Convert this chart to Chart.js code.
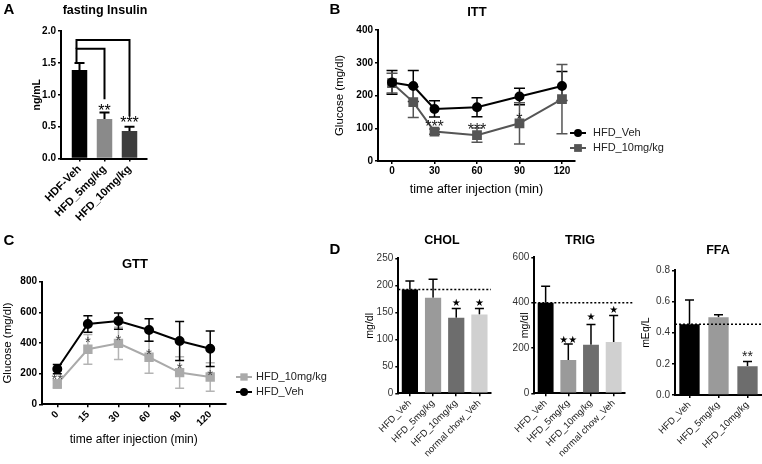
<!DOCTYPE html>
<html>
<head>
<meta charset="utf-8">
<script src="https://cdn.jsdelivr.net/npm/chart.js@4.4.0/dist/chart.umd.min.js"></script>
<style>
  html, body { margin: 0; padding: 0; background: #fff; }
  body { width: 762px; height: 464px; position: relative; overflow: hidden; font-family: 'Liberation Sans', Arial, sans-serif; }
  canvas { position: absolute; }
  .lbl { position: absolute; transform: translate(-50%, -50%); font-weight: bold; line-height: 1; white-space: nowrap; color: #000; }
</style>
</head>
<body>
<canvas id="chartA"></canvas>
<canvas id="chartB"></canvas>
<canvas id="chartC"></canvas>
<canvas id="chartChol"></canvas>
<canvas id="chartTrig"></canvas>
<canvas id="chartFfa"></canvas>

<div class="lbl" style="left:9px;top:8px;font-size:15px">A</div>
<div class="lbl" style="left:335px;top:8px;font-size:15px">B</div>
<div class="lbl" style="left:9px;top:239px;font-size:15px">C</div>
<div class="lbl" style="left:335px;top:248px;font-size:15px">D</div>
<div class="lbl" style="left:105px;top:10px;font-size:12.5px">fasting Insulin</div>
<div class="lbl" style="left:477px;top:11px;font-size:13px">ITT</div>
<div class="lbl" style="left:135px;top:263px;font-size:13px">GTT</div>
<div class="lbl" style="left:442px;top:240px;font-size:12.5px">CHOL</div>
<div class="lbl" style="left:580px;top:240px;font-size:12.5px">TRIG</div>
<div class="lbl" style="left:718px;top:250px;font-size:12.5px">FFA</div>

<script>
// ---- data ----
const insulinGroups = ['HDF-Veh', 'HFD_5mg/kg', 'HFD_10mg/kg'];
const insulinMean = [1.39, 0.62, 0.43];
const insulinSem = [0.11, 0.10, 0.07];
const insulinStars = ['', '**', '***'];
const insulinStarAt = [null, 0.81, 0.62];
const insulinBrackets = [
    { from: -0.12, to: 1, start: 1.5, top: 1.72, end: 0.93 },
    { from: -0.12, to: 2, start: 1.72, top: 1.86, end: 0.66 },
];

const ittTimes = [0, 15, 30, 60, 90, 120];
const ittTicks = [0, 30, 60, 90, 120];
const ittVeh = [240, 229, 159, 164, 197, 229];
const ittVehSem = [36, 47, 25, 29, 25, 44];
const itt10 = [238, 180, 90, 79, 115, 189];
const itt10Sem = [30, 47, 8, 22, 63, 106];
const ittStars = ['', '', '***', '***', '*', ''];
const ittStarAt = [null, null, 117, 108, 137, null];

const gttTimes = ['0', '15', '30', '60', '90', '120'];
const gttVeh = [230, 524, 543, 485, 413, 363];
const gttVehSem = [30, 54, 53, 74, 127, 116];
const gtt10 = [133, 359, 398, 307, 207, 178];
const gtt10Sem = [28, 97, 105, 104, 103, 93];
const gttStars = ['**', '*', '*', '*', '*', '*'];
const gttStarAt = [187, 432, 441, 352, 262, 215];

const lipidGroups = ['HFD_Veh', 'HFD_5mg/kg', 'HFD_10mg/kg', 'normal chow_Veh'];
const cholMean = [192, 177, 140, 146];
const cholSem = [16, 34, 17, 11];
const cholStars = ['', '', '★', '★'];
const cholStarAt = [null, null, 168, 168];
const trigMean = [400, 147, 214, 226];
const trigSem = [73, 71, 90, 118];
const trigStars = ['', '★★', '★', '★'];
const trigStarAt = [null, 238, 341, 370];
const ffaGroups = ['HFD_Veh', 'HFD_5mg/kg', 'HFD_10mg/kg'];
const ffaMean = [0.455, 0.5, 0.185];
const ffaSem = [0.155, 0.015, 0.03];
const ffaStars = ['', '', '**'];
const ffaStarAt = [null, null, 0.27];

// ---- styling ----
const FONT = "'Liberation Sans', Arial, sans-serif";
Chart.defaults.font.family = FONT;
Chart.defaults.color = '#000';
const barGrays = ['#000000', '#9a9a9a', '#6d6d6d', '#d0d0d0'];

// error bars drawn from each dataset's errPlus / errMinus through the y scale
const errorBars = {
    id: 'errorBars',
    beforeDatasetsDraw(chart, args, opts) {
        const { ctx } = chart;
        const y = chart.scales.y;
        chart.data.datasets.forEach((ds, di) => {
            if (!ds.errPlus) return;
            const meta = chart.getDatasetMeta(di);
            ctx.save();
            ctx.strokeStyle = ds.errColor || '#000';
            ctx.lineWidth = opts.width || 1.5;
            meta.data.forEach((el, i) => {
                const v = meta.controller.getParsed(i).y;
                const top = y.getPixelForValue(v + ds.errPlus[i]);
                const bot = ds.errMinus ? y.getPixelForValue(v - ds.errMinus[i]) : y.getPixelForValue(v);
                const half = (opts.cap || 8) / 2;
                ctx.beginPath();
                ctx.moveTo(el.x, bot);
                ctx.lineTo(el.x, top);
                ctx.moveTo(el.x - half, top);
                ctx.lineTo(el.x + half, top);
                if (ds.errMinus) {
                    ctx.moveTo(el.x - half, bot);
                    ctx.lineTo(el.x + half, bot);
                }
                ctx.stroke();
            });
            ctx.restore();
        });
    },
};

const starLabels = {
    id: 'starLabels',
    afterDatasetsDraw(chart, args, opts) {
        if (!opts.labels) return;
        const { ctx } = chart;
        const y = chart.scales.y;
        const meta = chart.getDatasetMeta(0);
        ctx.save();
        ctx.font = `${opts.size}px ${opts.family || FONT}`;
        ctx.fillStyle = opts.color || '#000';
        ctx.textAlign = 'center';
        ctx.textBaseline = 'alphabetic';
        opts.labels.forEach((s, i) => {
            if (!s) return;
            ctx.fillText(s, meta.data[i].x, y.getPixelForValue(opts.at[i]) + opts.size * opts.center);
        });
        ctx.restore();
    },
};

const brackets = {
    id: 'brackets',
    afterDatasetsDraw(chart, args, opts) {
        if (!opts.items) return;
        const { ctx } = chart;
        const x = chart.scales.x;
        const y = chart.scales.y;
        ctx.save();
        ctx.strokeStyle = '#000';
        ctx.lineWidth = 2;
        opts.items.forEach((b) => {
            const x0 = x.getPixelForValue(b.from);
            const x1 = x.getPixelForValue(b.to);
            ctx.beginPath();
            ctx.moveTo(x0, y.getPixelForValue(b.start));
            ctx.lineTo(x0, y.getPixelForValue(b.top));
            ctx.lineTo(x1, y.getPixelForValue(b.top));
            ctx.lineTo(x1, y.getPixelForValue(b.end));
            ctx.stroke();
        });
        ctx.restore();
    },
};

// dotted reference line at the vehicle mean
const refLine = {
    id: 'refLine',
    afterDatasetsDraw(chart, args, opts) {
        if (opts.value === undefined) return;
        const { ctx, chartArea } = chart;
        const yy = chart.scales.y.getPixelForValue(opts.value);
        ctx.save();
        ctx.strokeStyle = '#000';
        ctx.lineWidth = 1.5;
        ctx.setLineDash([2, 2]);
        ctx.beginPath();
        ctx.moveTo(chartArea.left, yy);
        ctx.lineTo(chartArea.right + (opts.extend || 0), yy);
        ctx.stroke();
        ctx.restore();
    },
};

const lineLegend = {
    id: 'lineLegend',
    afterDraw(chart, args, opts) {
        if (!opts.display) return;
        const { ctx, chartArea } = chart;
        ctx.save();
        ctx.font = `11px ${FONT}`;
        ctx.textBaseline = 'middle';
        ctx.textAlign = 'left';
        chart.data.datasets.forEach((ds, k) => {
            const x = chartArea.right + opts.dx;
            const y = chartArea.bottom + opts.dy + k * opts.gap;
            ctx.strokeStyle = ds.borderColor;
            ctx.fillStyle = ds.borderColor;
            ctx.lineWidth = 2;
            ctx.beginPath();
            ctx.moveTo(x, y);
            ctx.lineTo(x + 16, y);
            ctx.stroke();
            if (ds.pointStyle === 'rect') {
                const s = ds.pointRadius * Math.SQRT1_2;
                ctx.fillRect(x + 8 - s, y - s, 2 * s, 2 * s);
            } else {
                ctx.beginPath();
                ctx.arc(x + 8, y, ds.pointRadius, 0, Math.PI * 2);
                ctx.fill();
            }
            ctx.fillStyle = '#222';
            ctx.fillText(ds.label, x + opts.textGap, y);
        });
        ctx.restore();
    },
};

const tickLine = { display: true, drawOnChartArea: false, drawTicks: true, tickLength: 3, color: '#000', lineWidth: 1.5, offset: false };
const axisBorder = { display: true, color: '#000', width: 2 };

function yScale(o) {
    return {
        type: 'linear',
        min: o.min,
        max: o.max,
        ticks: { stepSize: o.step, font: o.font, color: o.color || '#000', padding: 2, callback: o.fmt || ((v) => v) },
        grid: tickLine,
        border: axisBorder,
        title: { display: !!o.title, text: o.title, font: o.titleFont, color: '#000' },
    };
}

function xScale(o) {
    const s = {
        type: o.type || 'category',
        offset: o.type !== 'linear',
        ticks: { font: o.font, color: o.color || '#000', padding: 2, autoSkip: false, minRotation: o.rot || 0, maxRotation: o.rot || 0 },
        grid: tickLine,
        border: axisBorder,
        title: { display: !!o.title, text: o.title, font: o.titleFont, color: '#000' },
    };
    if (o.type === 'linear') {
        s.min = o.min;
        s.max = o.max;
        s.afterBuildTicks = (sc) => { sc.ticks = o.ticks.map((v) => ({ value: v })); };
        if (o.fmt) s.ticks.callback = o.fmt;
    }
    return s;
}

function makeChart(id, box, area, titles, cfg) {
    const cv = document.getElementById(id);
    cv.width = box.r - box.l;
    cv.height = box.b - box.t;
    cv.style.left = box.l + 'px';
    cv.style.top = box.t + 'px';
    const o = cfg.options;
    o.responsive = false;
    o.maintainAspectRatio = false;
    o.animation = false;
    o.devicePixelRatio = 1;
    o.layout = { padding: { top: area.t - box.t, right: box.r - area.r, left: 0, bottom: 0 } };
    o.plugins = Object.assign({ legend: { display: false }, tooltip: { enabled: false } }, o.plugins);
    o.scales.x.afterFit = (s) => { s.height = box.b - area.b; };
    o.scales.y.afterFit = (s) => { s.width = area.l - box.l; };
    const yt = o.scales.y.title;
    if (yt.display) yt.padding = { top: titles.yx - box.l - yt.font.size / 2, bottom: 0 };
    const xt = o.scales.x.title;
    if (xt.display) xt.padding = { top: 0, bottom: box.b - titles.xy - xt.font.size / 2 };
    return new Chart(cv, cfg);
}

const bold = (size) => ({ size, weight: 'bold', lineHeight: 1 });
const plain = (size) => ({ size, lineHeight: 1 });

// ---- A: fasting insulin ----
makeChart('chartA', { l: 0, t: 0, r: 165, b: 232 }, { l: 61, t: 31, r: 147, b: 158.5 }, { yx: 37 }, {
    type: 'bar',
    data: {
        datasets: [{
            data: insulinMean.map((v, i) => ({ x: i, y: v })),
            errPlus: insulinSem,
            backgroundColor: ['#000000', '#8a8a8a', '#3d3d3d'],
            barPercentage: 0.62,
            categoryPercentage: 1,
        }],
    },
    options: {
        scales: {
            x: xScale({ type: 'linear', min: -0.74, max: 2.7, ticks: [0, 1, 2], fmt: (v) => insulinGroups[v], font: bold(11), rot: 45 }),
            y: yScale({ min: 0, max: 2, step: 0.5, font: bold(10), fmt: (v) => v.toFixed(1), title: 'ng/mL', titleFont: bold(10.5) }),
        },
        plugins: {
            errorBars: { cap: 10, width: 2 },
            starLabels: { labels: insulinStars, at: insulinStarAt, size: 16, center: 0.57 },
            brackets: { items: insulinBrackets },
        },
    },
    plugins: [errorBars, starLabels, brackets],
});

// ---- B: ITT ----
makeChart('chartB', { l: 300, t: 0, r: 680, b: 232 }, { l: 378, t: 30, r: 575, b: 161 }, { yx: 340, xy: 190 }, {
    type: 'line',
    data: {
        datasets: [
            {
                label: 'HFD_Veh',
                data: ittTimes.map((t, i) => ({ x: t, y: ittVeh[i] })),
                errPlus: ittVehSem,
                errMinus: ittVehSem,
                errColor: '#000',
                borderColor: '#000',
                backgroundColor: '#000',
                borderWidth: 2,
                pointStyle: 'circle',
                pointRadius: 4,
                tension: 0,
            },
            {
                label: 'HFD_10mg/kg',
                data: ittTimes.map((t, i) => ({ x: t, y: itt10[i] })),
                errPlus: itt10Sem,
                errMinus: itt10Sem,
                errColor: '#555',
                borderColor: '#555',
                backgroundColor: '#555',
                borderWidth: 2,
                pointStyle: 'rect',
                pointRadius: 5.5,
                tension: 0,
            },
        ],
    },
    options: {
        scales: {
            x: xScale({ type: 'linear', min: -9.9, max: 129.2, ticks: ittTicks, font: bold(10), title: 'time after injection (min)', titleFont: plain(12.5) }),
            y: yScale({ min: 0, max: 400, step: 100, font: bold(10), title: 'Glucose (mg/dl)', titleFont: plain(11.5) }),
        },
        plugins: {
            errorBars: { cap: 11, width: 1.5 },
            starLabels: { labels: ittStars, at: ittStarAt, size: 16, center: 0.57, color: '#222' },
            lineLegend: { display: true, dx: -5, dy: -28, gap: 15, textGap: 23 },
        },
    },
    plugins: [errorBars, starLabels, lineLegend],
});

// ---- C: GTT ----
makeChart('chartC', { l: 0, t: 232, r: 330, b: 464 }, { l: 42, t: 281.7, r: 225.5, b: 404.3 }, { yx: 8, xy: 440 }, {
    type: 'line',
    data: {
        labels: gttTimes,
        datasets: [
            {
                label: 'HFD_10mg/kg',
                data: gtt10,
                errPlus: gtt10Sem,
                errMinus: gtt10Sem,
                errColor: '#b4b4b4',
                borderColor: '#aaaaaa',
                backgroundColor: '#aaaaaa',
                borderWidth: 2,
                pointStyle: 'rect',
                pointRadius: 5.2,
                tension: 0,
            },
            {
                label: 'HFD_Veh',
                data: gttVeh,
                errPlus: gttVehSem,
                errMinus: gttVehSem,
                errColor: '#000',
                borderColor: '#000',
                backgroundColor: '#000',
                borderWidth: 2,
                pointStyle: 'circle',
                pointRadius: 4,
                tension: 0,
            },
        ],
    },
    options: {
        scales: {
            x: xScale({ font: bold(10), rot: 45, title: 'time after injection (min)', titleFont: plain(12) }),
            y: yScale({ min: 0, max: 800, step: 200, font: bold(10), title: 'Glucose (mg/dl)', titleFont: plain(11.5) }),
        },
        plugins: {
            errorBars: { cap: 9, width: 1.5 },
            starLabels: { labels: gttStars, at: gttStarAt, size: 15, center: 0.57, color: '#444' },
            lineLegend: { display: true, dx: 10.5, dy: -27.3, gap: 15, textGap: 20 },
        },
    },
    plugins: [errorBars, starLabels, lineLegend],
});

// ---- D: lipids ----
function lipidChart(id, box, area, titleX, groups, mean, sem, stars, starAt, yOpts, starFont, extend) {
    return makeChart(id, box, area, { yx: titleX }, {
        type: 'bar',
        data: {
            labels: groups,
            datasets: [{
                data: mean,
                errPlus: sem,
                backgroundColor: barGrays.slice(0, groups.length),
                barPercentage: 0.7,
                categoryPercentage: 1,
            }],
        },
        options: {
            scales: {
                x: xScale({ font: plain(9.5), rot: 45, color: '#222' }),
                y: yScale(Object.assign({ font: plain(10), color: '#333', titleFont: plain(10.5) }, yOpts)),
            },
            plugins: {
                errorBars: { cap: 9, width: 1.5 },
                starLabels: Object.assign({ labels: stars, at: starAt }, starFont),
                refLine: { value: mean[0], extend },
            },
        },
        plugins: [refLine, errorBars, starLabels],
    });
}

const blackStar = { size: 10, family: "'DejaVu Sans', sans-serif", center: 0.36 };
lipidChart('chartChol', { l: 350, t: 232, r: 500, b: 464 }, { l: 398.3, t: 258.3, r: 491, b: 393.3 }, 370,
    lipidGroups, cholMean, cholSem, cholStars, cholStarAt,
    { min: 0, max: 250, step: 50, title: 'mg/dl' }, blackStar, 0);
lipidChart('chartTrig', { l: 500, t: 232, r: 640, b: 464 }, { l: 534.3, t: 257.4, r: 625, b: 393.3 }, 525.5,
    lipidGroups, trigMean, trigSem, trigStars, trigStarAt,
    { min: 0, max: 600, step: 200, title: 'mg/dl' }, blackStar, 8);
lipidChart('chartFfa', { l: 640, t: 232, r: 762, b: 464 }, { l: 675, t: 270.4, r: 762, b: 395 }, 646,
    ffaGroups, ffaMean, ffaSem, ffaStars, ffaStarAt,
    { min: 0, max: 0.8, step: 0.2, title: 'mEq/L', fmt: (v) => v.toFixed(1) }, { size: 14, center: 0.57, color: '#222' }, 0);
</script>
</body>
</html>
